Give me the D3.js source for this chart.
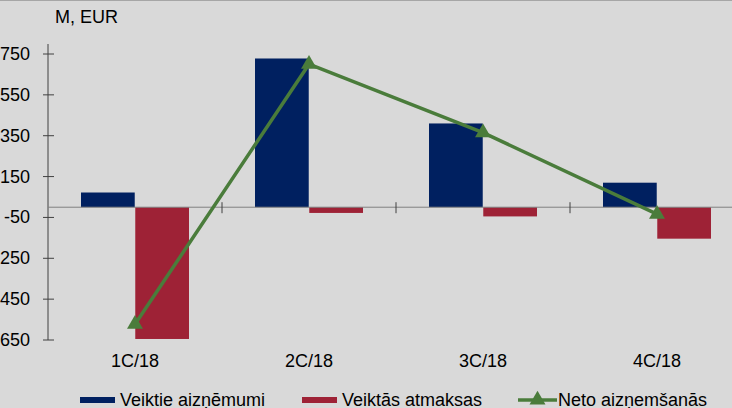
<!DOCTYPE html>
<html>
<head>
<meta charset="utf-8">
<script src="https://cdn.jsdelivr.net/npm/d3@7"></script>
<style>
  body { margin: 0; background: #d9d9d9; }
  svg { display: block; font-family: "Liberation Sans", Arial, sans-serif; }
</style>
</head>
<body>
<div id="canvas"></div>
<script>
var width = 732;
var height = 408;

var quarters = ["1C/18", "2C/18", "3C/18", "4C/18"];
var borrowed = [72, 728, 410, 120];
var repaid = [-645, -28, -45, -154];
var net = [-573, 700, 365, -34];
var yTicks = [750, 550, 350, 150, -50, -250, -450, -650];

var seriesNames = ["Veiktie aizņēmumi", "Veiktās atmaksas", "Neto aizņemšanās"];
var colors = ["#002060", "#9e2236", "#4a7c3b"];

var svg = d3.select("#canvas")
    .append("svg")
    .attr("width", width)
    .attr("height", height)
    .style("background-color", "#d9d9d9");

svg.append("line")
    .attr("x1", 0).attr("x2", width)
    .attr("y1", 0.5).attr("y2", 0.5)
    .attr("stroke", "#a6a6a6");

var xScale = d3.scaleBand()
    .domain(quarters)
    .range([48, 744]);

// two bars side by side, 33px gap at each band edge
var inner = d3.scaleBand()
    .domain([0, 1])
    .range([33, xScale.bandwidth() - 33])
    .paddingInner(0.01);

var yScale = d3.scaleLinear()
    .domain([-650, 750])
    .range([340, 54]);

// y axis with crossing ticks
var yAxis = svg.append("g").attr("transform", "translate(48,0)");
yAxis.append("line")
    .attr("y1", yScale(750) - 10).attr("y2", yScale(-650))
    .attr("stroke", "#404040");
yAxis.selectAll(".tk").data(yTicks).enter().append("line")
    .attr("x1", -5).attr("x2", 6)
    .attr("y1", d => yScale(d)).attr("y2", d => yScale(d))
    .attr("stroke", "#404040");
yAxis.selectAll("text").data(yTicks).enter().append("text")
    .attr("x", -18)
    .attr("y", d => yScale(d) + 6)
    .attr("text-anchor", "end")
    .attr("font-size", 18)
    .attr("fill", "#000")
    .text(d => d);

svg.append("text")
    .attr("x", 55).attr("y", 23)
    .attr("font-size", 18)
    .text("M, EUR");

// bars
svg.selectAll(".b1").data(quarters).enter().append("rect")
    .attr("x", d => xScale(d) + inner(0))
    .attr("width", inner.bandwidth())
    .attr("y", (d, i) => yScale(borrowed[i]))
    .attr("height", (d, i) => yScale(0) - yScale(borrowed[i]))
    .attr("fill", colors[0]);

svg.selectAll(".b2").data(quarters).enter().append("rect")
    .attr("x", d => xScale(d) + inner(1))
    .attr("width", inner.bandwidth())
    .attr("y", yScale(0))
    .attr("height", (d, i) => yScale(repaid[i]) - yScale(0))
    .attr("fill", colors[1]);

// zero line with category separators
svg.append("line")
    .attr("x1", 48).attr("x2", width)
    .attr("y1", yScale(0)).attr("y2", yScale(0))
    .attr("stroke", "#808080");
svg.selectAll(".sep").data(quarters.slice(1)).enter().append("line")
    .attr("x1", d => xScale(d)).attr("x2", d => xScale(d))
    .attr("y1", yScale(0) - 5).attr("y2", yScale(0) + 6)
    .attr("stroke", "#404040");

svg.selectAll(".cat").data(quarters).enter().append("text")
    .attr("x", d => xScale(d) + xScale.bandwidth() / 2)
    .attr("y", 367)
    .attr("text-anchor", "middle")
    .attr("font-size", 18)
    .text(d => d);

// net line
var line = d3.line()
    .x((d, i) => xScale(quarters[i]) + xScale.bandwidth() / 2)
    .y(d => yScale(d));

svg.append("path")
    .datum(net)
    .attr("d", line)
    .attr("fill", "none")
    .attr("stroke", colors[2])
    .attr("stroke-width", 3.5);

var tri = d3.symbol().type(d3.symbolTriangle).size(110);
svg.selectAll(".mk").data(net).enter().append("path")
    .attr("d", tri)
    .attr("transform", (d, i) => "translate(" + (xScale(quarters[i]) + xScale.bandwidth() / 2) + "," + yScale(d) + ")")
    .attr("fill", colors[2]);

// legend
var legendX = [80, 302, 518];
var legend = svg.selectAll(".lg").data(seriesNames).enter().append("g")
    .attr("transform", (d, i) => "translate(" + legendX[i] + ",400)");
legend.each(function (d, i) {
    var g = d3.select(this);
    if (i < 2) {
        g.append("rect").attr("x", 0).attr("y", -3).attr("width", 35).attr("height", 6).attr("fill", colors[i]);
    } else {
        g.append("line").attr("x1", 0).attr("x2", 39).attr("stroke", colors[2]).attr("stroke-width", 3.5);
        g.append("path").attr("d", tri).attr("transform", "translate(19.5,0)").attr("fill", colors[2]);
    }
    g.append("text")
        .attr("x", i < 2 ? 40 : 40)
        .attr("y", 6)
        .attr("font-size", 18)
        .text(d);
});
</script>
</body>
</html>
